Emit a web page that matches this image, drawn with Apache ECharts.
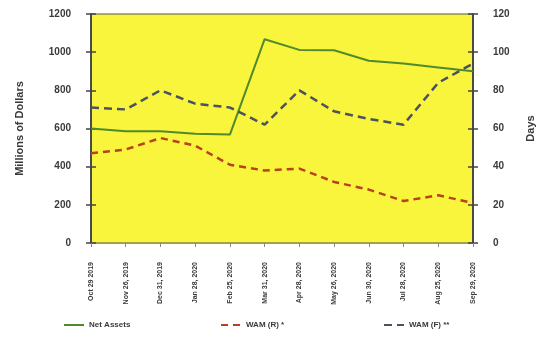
<!DOCTYPE html>
<html>
<head>
<meta charset="utf-8">
<script src="https://cdn.jsdelivr.net/npm/echarts@6/dist/echarts.min.js"></script>
<style>
html,body{margin:0;padding:0;background:#fff;}
#chart{width:546px;height:360px;}
</style>
</head>
<body>
<div id="chart"></div>
<script>
// Month-end reporting dates
var categories = ['Oct 29 2019', 'Nov 26, 2019', 'Dec 31, 2019', 'Jan 28, 2020', 'Feb 25, 2020', 'Mar 31, 2020',
  'Apr 28, 2020', 'May 26, 2020', 'Jun 30, 2020', 'Jul 28, 2020', 'Aug 25, 2020', 'Sep 29, 2020'];
// Net assets, millions of dollars (left axis)
var netAssets = [600, 585, 585, 572, 568, 1068, 1012, 1010, 955, 940, 920, 900];
// Weighted average maturity in days (right axis)
var wamR = [47, 49, 55, 51, 41, 38, 39, 32, 28, 22, 25, 21];
var wamF = [71, 70, 80, 73, 71, 62, 80, 69, 65, 62, 84, 94];
// Tick values
var leftTicks = [0, 200, 400, 600, 800, 1000, 1200];
var rightTicks = [0, 20, 40, 60, 80, 100, 120];

var font = 'Liberation Sans, Arial, sans-serif';
var textColor = '#3a3a3a';

var chart = echarts.init(document.getElementById('chart'));

function yAxisBase(ticks, pos, extra) {
  var a = {
    type: 'value',
    position: pos,
    min: ticks[0],
    max: ticks[ticks.length - 1],
    interval: ticks[1] - ticks[0],
    splitLine: {show: false},
    axisLine: {show: true, lineStyle: {color: '#444', width: 1.5}},
    axisTick: {show: true, length: 5, lineStyle: {color: '#444', width: 1.5}},
    axisLabel: {
      color: textColor, fontFamily: font, fontWeight: 'bold', fontSize: 10, margin: 20,
      formatter: function (v) { return String(v); }
    }
  };
  for (var k in extra) a[k] = extra[k];
  return a;
}

function legendAt(left, name) {
  return {
    data: [name], left: left, top: 316, itemWidth: 20, itemHeight: 8,
    itemStyle: {opacity: 0},
    textStyle: {color: textColor, fontFamily: font, fontWeight: 'bold', fontSize: 8}
  };
}

chart.setOption({
  animation: false,
  backgroundColor: '#fff',
  grid: {
    left: 91, right: 73, top: 14, bottom: 117,
    show: true, backgroundColor: '#f9f43c', borderColor: '#555', borderWidth: 1
  },
  legend: [legendAt(58, 'Net Assets'), legendAt(215, 'WAM (R) *'), legendAt(378, 'WAM (F) **')],
  xAxis: {
    type: 'category',
    data: categories,
    boundaryGap: false,
    axisLine: {show: true, lineStyle: {color: '#9a9a70', width: 1}},
    axisTick: {show: true, length: 4, lineStyle: {color: '#888'}},
    axisLabel: {rotate: 90, interval: 0, color: textColor, fontFamily: font, fontWeight: 'bold', fontSize: 7, margin: 19}
  },
  yAxis: [
    yAxisBase(leftTicks, 'left', {
      name: 'Millions of Dollars', nameLocation: 'middle', nameGap: 66, nameRotate: 90,
      nameTextStyle: {color: textColor, fontFamily: font, fontWeight: 'bold', fontSize: 11}
    }),
    yAxisBase(rightTicks, 'right', {
      name: 'Days', nameLocation: 'middle', nameGap: 52, nameRotate: 90,
      nameTextStyle: {color: textColor, fontFamily: font, fontWeight: 'bold', fontSize: 11}
    }),
    // inward halves of the cross-shaped tick marks
    yAxisBase(leftTicks, 'left', {axisLabel: {show: false}, axisTick: {show: true, inside: true, length: 5, lineStyle: {color: '#444', width: 1.5}}}),
    yAxisBase(rightTicks, 'right', {axisLabel: {show: false}, axisTick: {show: true, inside: true, length: 5, lineStyle: {color: '#444', width: 1.5}}})
  ],
  series: [
    {
      name: 'Net Assets', type: 'line', yAxisIndex: 0, data: netAssets,
      symbol: 'none', lineStyle: {color: '#4f8a2c', width: 2}, itemStyle: {color: '#4f8a2c'}
    },
    {
      name: 'WAM (R) *', type: 'line', yAxisIndex: 1, data: wamR,
      symbol: 'none', lineStyle: {color: '#b8411e', width: 2.5, type: [7, 5]}, itemStyle: {color: '#b8411e'}
    },
    {
      name: 'WAM (F) **', type: 'line', yAxisIndex: 1, data: wamF,
      symbol: 'none', lineStyle: {color: '#4a5262', width: 2.5, type: [8, 5]}, itemStyle: {color: '#4a5262'}
    }
  ]
});
</script>
</body>
</html>
